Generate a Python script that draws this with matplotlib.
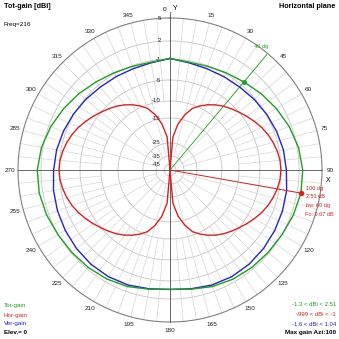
import numpy as np
import matplotlib
matplotlib.use('Agg')
import matplotlib.pyplot as plt

plt.rcParams['font.family'] = ['Liberation Sans', 'DejaVu Sans']

# ---------------- data ----------------
az_vt = list(range(0, 361, 10))
ver_gain = [-0.9, -1.4, -1.6, -1.6, -1.5, -1.2, -0.9, -0.6, -0.3, -0.1,
            0.24, 0.45, 0.65, 0.85, 1.0, 1.04, 0.9, 0.6, 0.4, 0.6,
            0.9, 1.03, 1.0, 0.85, 0.65, 0.45, 0.22, -0.1, -0.3, -0.6,
            -0.9, -1.2, -1.5, -1.6, -1.6, -1.4, -0.9]
tot_gain = [-0.9, -1.28, -1.13, -0.79, -0.33, 0.31, 0.97, 1.64, 2.19, 2.48,
            2.51, 2.30, 2.04, 1.85, 1.70, 1.50, 1.17, 0.67, 0.4, 0.67,
            1.17, 1.49, 1.70, 1.85, 2.04, 2.30, 2.49, 2.48, 2.19, 1.64,
            0.97, 0.31, -0.33, -0.79, -1.13, -1.28, -0.9]
az_h = list(range(0, 361, 5))
hor_gain = [-999, -22.5, -17, -13.5, -11, -9.6, -8.5, -7.5, -6.6, -5.8,
            -5.0, -4.3, -3.6, -2.9, -2.3, -1.8, -1.4, -1.1, -1.0,
            -1.1, -1.4, -1.8, -2.3, -2.9, -3.6, -4.3, -5.0, -5.8, -6.6,
            -7.5, -8.5, -9.6, -11, -13.5, -17, -22.5, -999,
            -22.5, -17, -13.5, -11, -9.6, -8.5, -7.5, -6.6, -5.8,
            -5.0, -4.3, -3.6, -2.9, -2.3, -1.8, -1.4, -1.1, -1.0,
            -1.1, -1.4, -1.8, -2.3, -2.9, -3.6, -4.3, -5.0, -5.8, -6.6,
            -7.5, -8.5, -9.6, -11, -13.5, -17, -22.5, -999]

# radial scale (dB rings and their relative radius)
ring_db = [5, 2, -1, -5, -10, -15, -25, -35, -45]
ring_labels = ['5', '2', '-1', '-5', '-10', '-15', '-25', '-35', '-45']
ring_rel = [1.0, 0.849, 0.730, 0.592, 0.454, 0.342, 0.178, 0.092, 0.039]

# angle labels (105 is hidden under the marker text in the reference)
angle_ticks = [a for a in range(0, 360, 15) if a != 105]
max_az = 100
max_gain = 2.51
cursor_az = 40

GREEN = '#1f9e1f'
RED = '#d42222'
BLUE = '#2424c8'

def rad(db):
    xp = [-60] + ring_db[::-1]
    fp = [0.0] + ring_rel[::-1]
    return np.interp(db, xp, fp)

def xy(az, r):
    th = np.deg2rad(np.asarray(az, dtype=float))
    return r * np.sin(th), r * np.cos(th)

W = 339
fig = plt.figure(figsize=(3.39, 3.39), dpi=100)
ax = fig.add_axes([0, 0, 1, 1])
ax.set_xlim(-170 / 152, 169 / 152)
ax.set_ylim(-169 / 152, 170 / 152)
ax.set_aspect('equal')
ax.axis('off')

# ---------------- grid ----------------
t = np.linspace(0, 360, 721)
for db in ring_db:
    x, y = xy(t, rad(db))
    if db == ring_db[0]:
        ax.plot(x, y, color='#808080', lw=0.8, zorder=2)
    else:
        ax.plot(x, y, color='#c4c4c4', lw=0.6, zorder=1)

for a in range(0, 360, 5):
    if a % 90 == 0:
        continue
    r0 = rad(-35) if a % 15 == 0 else rad(-10)
    x0, y0 = xy(a, r0)
    x1, y1 = xy(a, 1.0)
    ax.plot([x0, x1], [y0, y1], color='#d6d6d6', lw=0.5, zorder=1)

ax.plot([0, 0], [-1.0, 1.04], color='#505050', lw=0.6, zorder=2)
ax.plot([-1.0, 1.0], [0, 0], color='#505050', lw=0.6, zorder=2)

# angle labels
for a in angle_ticks:
    x, y = xy(a, 1.053)
    if a == 0:
        ax.text(-0.035, 1.055, '0', fontsize=4.6, ha='center', va='center')
        ax.text(0.035, 1.065, 'Y', fontsize=5, ha='center', va='center')
        continue
    ax.text(x, y, str(a), fontsize=4.6, ha='center', va='center', color='#202020')
ax.text(1.04, -0.068, 'X', fontsize=5, ha='center', va='center')

# dB labels
for db, lab in zip(ring_db, ring_labels):
    ax.text(-0.06, rad(db), lab, fontsize=4.4, ha='right', va='center',
            color='#202020', zorder=3)

# ---------------- curves ----------------
x, y = xy(az_h, rad(np.array(hor_gain)))
ax.plot(x, y, color=RED, lw=1.0, zorder=4)
x, y = xy(az_vt, rad(np.array(ver_gain)))
ax.plot(x, y, color=BLUE, lw=1.0, zorder=5)
x, y = xy(az_vt, rad(np.array(tot_gain)))
ax.plot(x, y, color=GREEN, lw=1.0, zorder=6)

# cursor line (green) at 40 deg
cx, cy = xy(cursor_az, 0.99)
ax.plot([0, cx], [0, cy], color=GREEN, lw=0.6, zorder=3)
cur_val = np.interp(cursor_az, az_vt, tot_gain)
px, py = xy(cursor_az, rad(cur_val))
ax.plot([px], [py], 'o', color=GREEN, ms=2.5, zorder=7)
ax.text(0.60, 0.81, '40 dg', fontsize=4, color=GREEN, ha='center', va='center')

# max gain marker (red)
mx, my = xy(max_az, rad(max_gain))
ax.plot([0, mx], [0, my], color=RED, lw=0.7, zorder=7)
ax.plot([mx], [my], 'o', color=RED, ms=3, zorder=8)

def ptext(xp, yp, s, **kw):
    fig.text(xp / W, 1 - yp / W, s, va='center', **kw)

ptext(306, 188, '100 dg', fontsize=4, color=RED)
ptext(306, 197, '2.51 dB', fontsize=4, color=RED)
ptext(306, 205.5, 'bw: 60 dg', fontsize=4, color=RED)
ptext(305, 214, 'Fo: 0.07 dB', fontsize=4, color=RED)

# ---------------- headers / legend ----------------
ptext(4, 6.5, 'Tot-gain [dBi]', fontsize=5.2, fontweight='bold')
ptext(4, 24.5, 'Freq=216', fontsize=4.6)
ptext(335, 6, 'Horizontal plane', fontsize=5.2, fontweight='bold', ha='right')

ptext(4, 305, 'Tot-gain', fontsize=4.5, color=GREEN)
ptext(4, 315, 'Hor-gain', fontsize=4.5, color=RED)
ptext(4, 324, 'Ver-gain', fontsize=4.5, color=BLUE)
ptext(4, 332.5, 'Elev.= 0', fontsize=4.5, fontweight='bold')

ptext(336, 305, '-1.3 < dBi < 2.51', fontsize=4.3, color=GREEN, ha='right')
ptext(336, 315, '-999 < dBi < -1', fontsize=4.3, color=RED, ha='right')
ptext(336, 324, '-1.6 < dBi < 1.04', fontsize=4.3, color=BLUE, ha='right')
ptext(336, 332.5, 'Max gain Azi:100', fontsize=4.6, fontweight='bold', ha='right')

fig.savefig('out.png', dpi=100)
